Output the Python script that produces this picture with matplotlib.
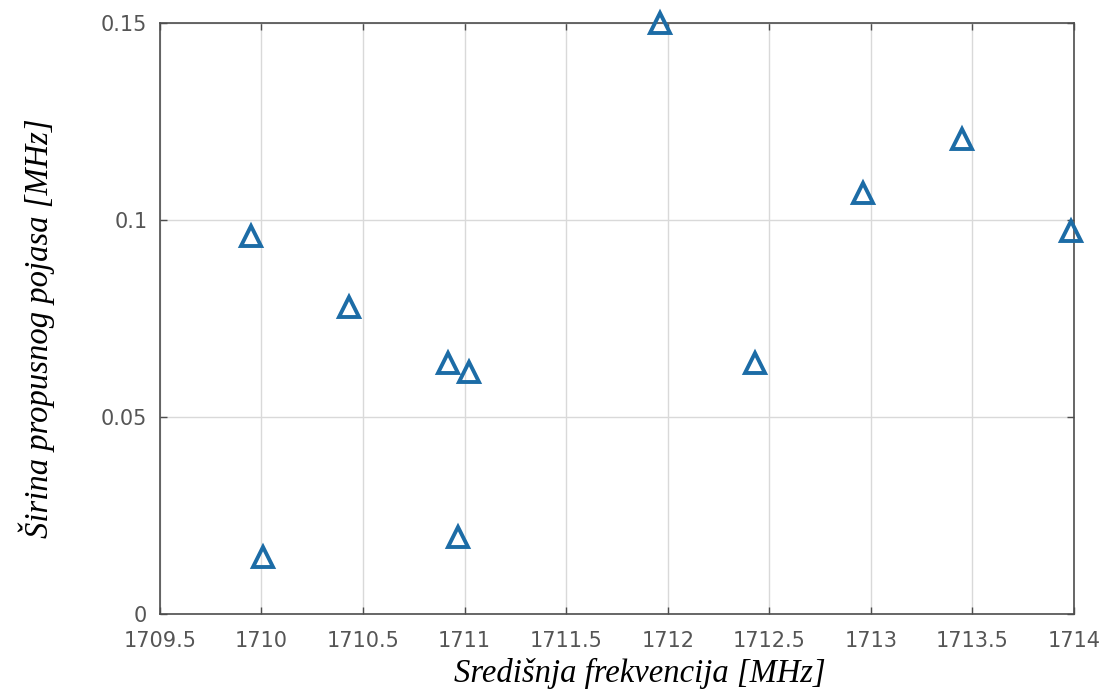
import matplotlib
matplotlib.use("Agg")
from matplotlib import pyplot as plt
from matplotlib.ticker import FuncFormatter

# center frequency [MHz] and bandwidth [MHz]
freq = [1709.95, 1710.01, 1710.43, 1710.92, 1711.02, 1710.97,
        1711.96, 1712.43, 1712.96, 1713.45, 1713.985]
bandwidth = [0.0959, 0.0145, 0.0779, 0.0637, 0.0614, 0.0195,
             0.1500, 0.0637, 0.1068, 0.1206, 0.0972]

x_ticks = [1709.5, 1710, 1710.5, 1711, 1711.5, 1712, 1712.5, 1713, 1713.5, 1714]
y_ticks = [0, 0.05, 0.1, 0.15]

fig = plt.figure(figsize=(11.1, 6.97), dpi=100)
ax = fig.add_axes([0.144, 0.119, 0.8236, 0.848])

ax.plot(freq, bandwidth, linestyle='none', marker='^', markersize=15,
        markerfacecolor='none', markeredgecolor='#1c6ca6',
        markeredgewidth=2.8, clip_on=False, zorder=3)

ax.set_xlim(1709.5, 1714)
ax.set_ylim(0, 0.15)
ax.set_xticks(x_ticks)
ax.set_yticks(y_ticks)
ax.xaxis.set_major_formatter(FuncFormatter(lambda v, p: "%g" % v))
ax.yaxis.set_major_formatter(FuncFormatter(lambda v, p: "%g" % v))

ax.grid(True, color='#d9d9d9', linewidth=1.0)
ax.set_axisbelow(True)
for s in ax.spines.values():
    s.set_color('#4d4d4d')
    s.set_linewidth(1.2)

ax.tick_params(axis='both', direction='in', top=True, right=True,
               length=5, width=1, color='#4d4d4d',
               labelsize=15, labelcolor='#555555')
ax.tick_params(axis='x', pad=12)
ax.tick_params(axis='y', pad=9)

ax.set_xlabel("Središnja frekvencija [MHz]", fontsize=23.5,
              family='Liberation Serif', style='italic')
ax.set_ylabel("Širina propusnog pojasa [MHz]", fontsize=23.5,
              family='Liberation Serif', style='italic')
ax.xaxis.set_label_coords(0.525, -0.075)
ax.yaxis.set_label_coords(-0.115, 0.484)

plt.savefig('out.png', dpi=100)
